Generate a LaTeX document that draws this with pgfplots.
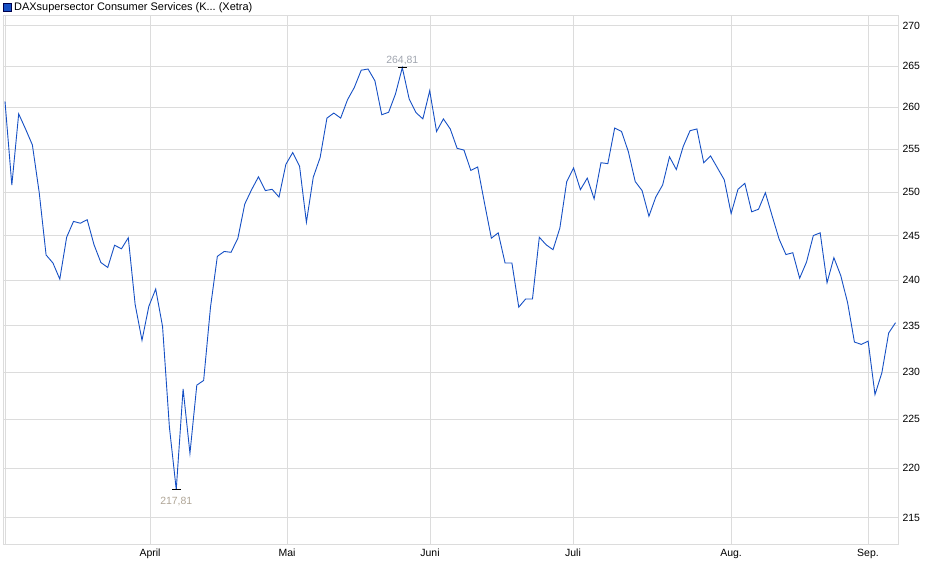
\documentclass[border=0pt]{standalone}
\usepackage{fontspec}
\setmainfont{Liberation Sans}
\usepackage{pgfplots}
\usepackage{pgfplotstable}
\pgfplotsset{compat=1.18}
\frenchspacing
\definecolor{lineblue}{RGB}{22,80,196}
\definecolor{gridgray}{RGB}{220,220,220}
\definecolor{hilab}{RGB}{160,165,175}
\definecolor{lolab}{RGB}{175,165,150}
\pgfplotstableread{
i v
0 260.7
1 250.8
2 259.2
3 257.4
4 255.5
5 249.9
6 242.8
7 241.9
8 240.1
9 244.8
10 246.6
11 246.4
12 246.8
13 243.95
14 241.95
15 241.4
16 243.9
17 243.5
18 244.75
19 237.3
20 233.4
21 237.1
22 239.0
23 234.9
24 224.2
25 217.81
26 228.2
27 221.5
28 228.6
29 229.1
30 237.0
31 242.65
32 243.2
33 243.1
34 244.7
35 248.6
36 250.25
37 251.75
38 250.15
39 250.3
40 249.4
41 253.2
42 254.6
43 253.0
44 246.5
45 251.7
46 254.0
47 258.7
48 259.3
49 258.7
50 260.9
51 262.4
52 264.5
53 264.65
54 263.2
55 259.1
56 259.4
57 261.6
58 264.81
59 261.0
60 259.35
61 258.6
62 262.0
63 257.1
64 258.6
65 257.4
66 255.1
67 254.9
68 252.5
69 252.9
70 248.7
71 244.7
72 245.3
73 241.9
74 241.9
75 237.0
76 237.9
77 237.9
78 244.8
79 243.95
80 243.4
81 245.85
82 251.2
83 252.8
84 250.25
85 251.6
86 249.2
87 253.4
88 253.3
89 257.5
90 257.1
91 254.7
92 251.2
93 250.15
94 247.2
95 249.4
96 250.8
97 254.1
98 252.6
99 255.3
100 257.2
101 257.4
102 253.4
103 254.2
104 252.8
105 251.4
106 247.5
107 250.3
108 251.0
109 247.7
110 248.0
111 249.9
112 247.2
113 244.6
114 242.85
115 243.05
116 240.2
117 242.0
118 245.0
119 245.3
120 239.7
121 242.5
122 240.5
123 237.5
124 233.2
125 232.95
126 233.3
127 227.6
128 229.9
129 234.2
130 235.3
}\datatable
\begin{document}
\begin{tikzpicture}
\useasboundingbox (-3bp,-34bp) rectangle (937bp,545bp);
\begin{axis}[
  at={(0bp,0bp)}, anchor=south west,
  scale only axis, width=895bp, height=529bp,
  xmin=-0.29, xmax=130.36,
  ymode=log, ymin=212.3, ymax=271.25,
  axis line style={gridgray, line width=0.8bp},
  tick style={draw=none},
  major tick length=0pt,
  xtick={0,21.17,41.17,62.04,82.92,105.99,125.98},
  xticklabels={,April,Mai,Juni,Juli,Aug.,Sep.},
  ytick={215,220,225,230,235,240,245,250,255,260,265,270},
  yticklabels={215,220,225,230,235,240,245,250,255,260,265,270},
  yticklabel pos=right,
  grid=major,
  major grid style={gridgray, line width=0.8bp},
  ticklabel style={font=\fontsize{10.5}{12}\selectfont, text=black},
  yticklabel style={anchor=west, xshift=1bp},
  xticklabel style={anchor=north, yshift=-1bp},
  /pgf/number format/assume math mode=true,
  clip=true,
]
\addplot[lineblue, line width=0.9bp, mark=none] table[x=i, y=v] {\datatable};
\addplot[black, only marks, mark=-, mark size=4.3bp, mark options={line width=0.9bp}] coordinates {(58,264.81) (25,217.81)};
\node[anchor=south, inner sep=0pt, yshift=2.5bp, text=hilab, font=\fontsize{10.5}{12}\selectfont] at (axis cs:58,264.81) {264,81};
\node[anchor=north, inner sep=0pt, yshift=-7bp, text=lolab, font=\fontsize{10.5}{12}\selectfont] at (axis cs:25,217.81) {217,81};
\end{axis}
\filldraw[fill=lineblue, draw=black!70!blue, line width=0.6bp] (-0.2bp,534bp) rectangle (8bp,541.7bp);
\node[anchor=west, inner sep=0pt, font=\fontsize{11}{13}\selectfont] at (11bp,537.8bp) {DAXsupersector Consumer Services (K...\ (Xetra)};
\end{tikzpicture}
\end{document}
